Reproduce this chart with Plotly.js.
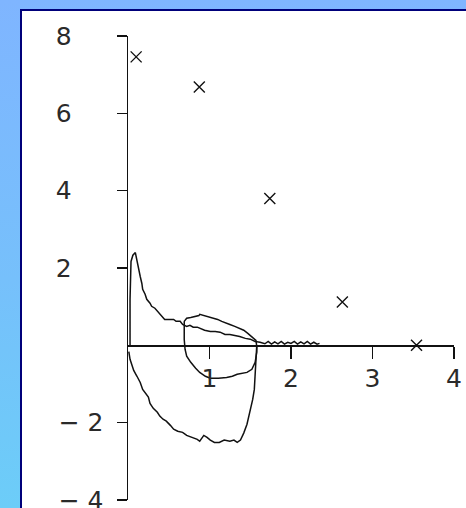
<!DOCTYPE html>
<html>
<head>
<meta charset="utf-8">
<script src="https://cdn.plot.ly/plotly-3.0.1.min.js"></script>
<style>
  html, body { margin: 0; padding: 0; }
  body {
    width: 466px; height: 508px; overflow: hidden; position: relative;
    background: linear-gradient(to bottom, #7fb5ff 0%, #76c0fb 55%, #6ccdf8 100%);
  }
  #panel {
    position: absolute; left: 20px; top: 9px; right: 0; bottom: 0;
    background: #ffffff;
    border-left: 2px solid #00007a; border-top: 2px solid #00007a;
  }
  #chart { position: absolute; left: 0; top: 0; width: 466px; height: 508px; }
</style>
</head>
<body>
<div id="panel"></div>
<div id="chart"></div>
<script>
// Sampled points (marked with x)
const sampleX = [0.10, 0.875, 1.74, 2.63, 3.54];
const sampleY = [7.46, 6.68, 3.80, 1.12, 0.00];

// Upper decaying trace, ending in a noisy band along zero
const upperX = [0.025, 0.025, 0.037, 0.06, 0.09, 0.11, 0.12, 0.15, 0.17, 0.18, 0.21, 0.23, 0.27, 0.29, 0.33,
  0.36, 0.39, 0.42, 0.45, 0.52, 0.56, 0.59, 0.64, 0.67, 0.72, 0.76, 0.80, 0.85, 0.88, 0.94, 1.01, 1.07,
  1.13, 1.19, 1.25, 1.31, 1.37, 1.44, 1.50, 1.56, 1.62, 1.68, 1.72, 1.76, 1.80, 1.84, 1.88, 1.92, 1.96,
  2.00, 2.04, 2.08, 2.12, 2.16, 2.20, 2.24, 2.28, 2.32, 2.35];
const upperY = [0.00, 1.19, 2.17, 2.33, 2.40, 2.17, 2.02, 1.78, 1.60, 1.45, 1.32, 1.19, 1.09, 1.01, 0.96,
  0.88, 0.80, 0.72, 0.67, 0.67, 0.67, 0.62, 0.62, 0.54, 0.49, 0.52, 0.47, 0.47, 0.44, 0.39, 0.36, 0.36,
  0.34, 0.28, 0.28, 0.26, 0.23, 0.18, 0.16, 0.10, 0.08, 0.04, 0.10, 0.03, 0.09, 0.04, 0.10, 0.03, 0.08,
  0.05, 0.10, 0.03, 0.09, 0.04, 0.10, 0.03, 0.08, 0.03, 0.05];

// Inner closed loop
const loopX = [0.69, 0.72, 0.77, 0.83, 0.87, 0.88, 0.93, 0.99, 1.04, 1.10, 1.15, 1.20, 1.25, 1.31, 1.37,
  1.42, 1.47, 1.52, 1.57, 1.58, 1.58, 1.56, 1.52, 1.46, 1.40, 1.34, 1.28, 1.21, 1.11, 1.01, 0.95, 0.88,
  0.83, 0.77, 0.72, 0.70, 0.69, 0.69];
const loopY = [0.62, 0.70, 0.72, 0.75, 0.77, 0.80, 0.77, 0.75, 0.72, 0.67, 0.62, 0.59, 0.54, 0.49, 0.44,
  0.39, 0.31, 0.23, 0.13, -0.03, -0.18, -0.44, -0.62, -0.70, -0.72, -0.75, -0.80, -0.83, -0.85, -0.85,
  -0.80, -0.70, -0.59, -0.44, -0.28, -0.10, 0.15, 0.62];

// Lower trace dipping to about -2.5
const lowerX = [0.01, 0.025, 0.05, 0.07, 0.11, 0.15, 0.18, 0.22, 0.25, 0.27, 0.31, 0.36, 0.39, 0.43, 0.47,
  0.52, 0.56, 0.61, 0.67, 0.72, 0.78, 0.85, 0.88, 0.93, 0.97, 1.01, 1.06, 1.12, 1.18, 1.25, 1.30, 1.34,
  1.38, 1.42, 1.46, 1.48, 1.50, 1.53, 1.55, 1.56, 1.57, 1.58, 1.58];
const lowerY = [-0.16, -0.36, -0.52, -0.65, -0.80, -0.96, -1.14, -1.27, -1.34, -1.50, -1.63, -1.73, -1.83,
  -1.91, -1.96, -2.07, -2.17, -2.22, -2.25, -2.33, -2.38, -2.43, -2.48, -2.33, -2.38, -2.45, -2.51, -2.51,
  -2.45, -2.48, -2.45, -2.51, -2.45, -2.27, -2.04, -1.86, -1.65, -1.40, -1.14, -0.75, -0.36, -0.10, 0.00];

// Axis ticks
const xTickVals = [1, 2, 3, 4];
const xTickText = ['1', '2', '3', '4'];
const yTickVals = [-4, -2, 2, 4, 6, 8];
const yTickText = ['\u2212 4', '\u2212 2', '2\u2007\u2007', '4\u2007\u2007', '6\u2007\u2007', '8\u2007\u2007'];

const ink = '#111111';
const curveLine = { color: ink, width: 1.5 };

const traces = [
  { x: upperX, y: upperY, mode: 'lines', line: curveLine, hoverinfo: 'skip' },
  { x: loopX, y: loopY, mode: 'lines', line: curveLine, hoverinfo: 'skip' },
  { x: lowerX, y: lowerY, mode: 'lines', line: curveLine, hoverinfo: 'skip' },
  { x: sampleX, y: sampleY, mode: 'markers',
    marker: { symbol: 'x-thin-open', size: 11, color: ink, line: { color: ink, width: 1.4 } },
    hoverinfo: 'skip' }
];

const tickFont = { family: 'DejaVu Sans', size: 25, color: '#2a2a2a' };

const layout = {
  width: 466, height: 508,
  margin: { l: 128, r: 12, t: 36, b: 8, pad: 0 },
  paper_bgcolor: 'rgba(0,0,0,0)',
  plot_bgcolor: 'rgba(0,0,0,0)',
  showlegend: false,
  xaxis: {
    range: [0, 4], anchor: 'free', position: 1 / 3,
    showgrid: false, zeroline: false,
    showline: true, linecolor: ink, linewidth: 1.5,
    ticks: 'outside', ticklen: 12, tickwidth: 1.5, tickcolor: ink,
    tickmode: 'array', tickvals: xTickVals, ticktext: xTickText,
    tickfont: tickFont, ticklabelstandoff: -2, ticklabeloverflow: 'allow'
  },
  yaxis: {
    range: [-4, 8],
    showgrid: false, zeroline: false,
    showline: true, linecolor: ink, linewidth: 1.5,
    ticks: 'outside', ticklen: 10, tickwidth: 1.5, tickcolor: ink,
    tickmode: 'array', tickvals: yTickVals, ticktext: yTickText,
    tickfont: tickFont, ticklabelstandoff: 8, ticklabeloverflow: 'allow'
  }
};

Plotly.newPlot('chart', traces, layout, { staticPlot: true, displayModeBar: false });
</script>
</body>
</html>
